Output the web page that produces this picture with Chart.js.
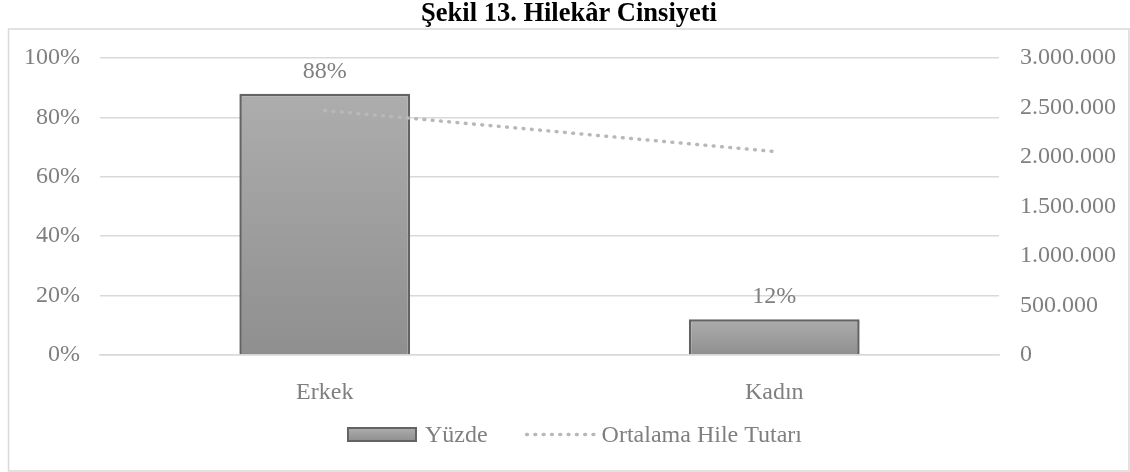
<!DOCTYPE html>
<html>
<head>
<meta charset="utf-8">
<script src="https://cdn.jsdelivr.net/npm/chart.js@4.4.1/dist/chart.umd.min.js"></script>
<style>
html,body{margin:0;padding:0;background:#fff;}
#wrap{width:1130px;height:472px;position:relative;}
</style>
</head>
<body>
<div id="wrap"><canvas id="c" width="1130" height="472"></canvas></div>
<script>
const TITLE = 'Şekil 13. Hilekâr Cinsiyeti';
const categories = ['Erkek', 'Kadın'];
const yuzde = [88, 12];
const ortalamaHileTutari = [2470000, 2055000];
const seriesNames = ['Yüzde', 'Ortalama Hile Tutarı'];

const FONT = "'Liberation Serif', 'Times New Roman', serif";
const TEXT = '#7f7f7f';
const GRID = '#d9d9d9';

function fmtThousands(v){
  return String(Math.round(v)).replace(/\B(?=(\d{3})+(?!\d))/g, '.');
}

function barGradient(ctx, top, bottom){
  const g = ctx.createLinearGradient(0, top, 0, bottom);
  g.addColorStop(0, '#adadad');
  g.addColorStop(1, '#8f8f8f');
  return g;
}

const decor = {
  id: 'decor',
  beforeDraw(chart){
    const ctx = chart.ctx;
    ctx.save();
    ctx.strokeStyle = GRID;
    ctx.lineWidth = 1.5;
    ctx.strokeRect(8.5, 29, chart.width - 9.5, chart.height - 30);
    ctx.fillStyle = '#000';
    ctx.font = "bold 26.5px " + FONT;
    ctx.textAlign = 'center';
    ctx.textBaseline = 'alphabetic';
    ctx.fillText(TITLE, 569, 21);
    ctx.restore();
  },
  afterDatasetsDraw(chart){
    const ctx = chart.ctx;
    ctx.save();
    const meta = chart.getDatasetMeta(0);
    ctx.fillStyle = TEXT;
    ctx.font = "24px " + FONT;
    ctx.textAlign = 'center';
    ctx.textBaseline = 'alphabetic';
    meta.data.forEach((bar, i) => {
      ctx.fillText(yuzde[i] + '%', bar.x, bar.y - 16);
    });
    const baseY = 442;
    const boxW = 68, boxH = 13;
    const t1 = ctx.measureText(seriesNames[0]).width;
    const t2 = ctx.measureText(seriesNames[1]).width;
    const total = boxW + 9 + t1 + 38 + 69 + 7 + t2;
    let x = 575 - total / 2;
    const boxTop = 428;
    ctx.fillStyle = barGradient(ctx, boxTop, boxTop + boxH);
    ctx.fillRect(x, boxTop, boxW, boxH);
    ctx.strokeStyle = '#636363';
    ctx.lineWidth = 2;
    ctx.strokeRect(x, boxTop, boxW, boxH);
    x += boxW + 9;
    ctx.fillStyle = TEXT;
    ctx.textAlign = 'left';
    ctx.fillText(seriesNames[0], x, baseY);
    x += t1 + 38;
    ctx.strokeStyle = '#b8b8b8';
    ctx.lineWidth = 3.5;
    ctx.lineCap = 'round';
    ctx.setLineDash([0.8, 7.5]);
    ctx.beginPath();
    ctx.moveTo(x + 1, 434.5);
    ctx.lineTo(x + 69, 434.5);
    ctx.stroke();
    ctx.setLineDash([]);
    x += 69 + 7;
    ctx.fillText(seriesNames[1], x, baseY);
    ctx.restore();
  }
};

new Chart(document.getElementById('c'), {
  data: {
    labels: categories,
    datasets: [
      {
        type: 'bar',
        label: seriesNames[0],
        data: yuzde,
        yAxisID: 'y',
        order: 2,
        backgroundColor(c){
          const chart = c.chart;
          if (!chart.chartArea) return '#a0a0a0';
          const ys = chart.scales.y;
          const v = c.dataset.data[c.dataIndex];
          return barGradient(chart.ctx, ys.getPixelForValue(v), ys.getPixelForValue(0));
        },
        borderColor: '#636363',
        borderWidth: 2.5,
        barPercentage: 0.38,
        categoryPercentage: 1
      },
      {
        type: 'line',
        label: seriesNames[1],
        data: ortalamaHileTutari,
        yAxisID: 'y1',
        order: 1,
        borderColor: '#b8b8b8',
        borderWidth: 3.5,
        borderDash: [0.8, 7.5],
        borderCapStyle: 'round',
        pointRadius: 0,
        fill: false,
        tension: 0
      }
    ]
  },
  options: {
    responsive: false,
    animation: false,
    devicePixelRatio: 1,
    layout: { padding: { top: 58, bottom: 0, left: 0, right: 0 } },
    plugins: {
      legend: { display: false },
      title: { display: false },
      tooltip: { enabled: false }
    },
    scales: {
      x: {
        grid: { display: false },
        border: { display: true, color: GRID, width: 1.5 },
        ticks: { color: TEXT, font: { family: FONT, size: 24 }, padding: 15 },
        afterFit(s){ s.height = 117; }
      },
      y: {
        position: 'left',
        min: 0, max: 100,
        ticks: { stepSize: 20, color: TEXT, font: { family: FONT, size: 24 }, padding: 20,
          callback: v => v + '%' },
        grid: { color: GRID, lineWidth: 1.5, drawTicks: false },
        border: { display: false },
        afterFit(s){ s.width = 100; }
      },
      y1: {
        position: 'right',
        min: 0, max: 3000000,
        ticks: { stepSize: 500000, color: TEXT, font: { family: FONT, size: 24 }, padding: 21,
          callback: v => fmtThousands(v) },
        grid: { display: false, drawTicks: false },
        border: { display: false },
        afterFit(s){ s.width = 131; }
      }
    }
  },
  plugins: [decor]
});
</script>
</body>
</html>
